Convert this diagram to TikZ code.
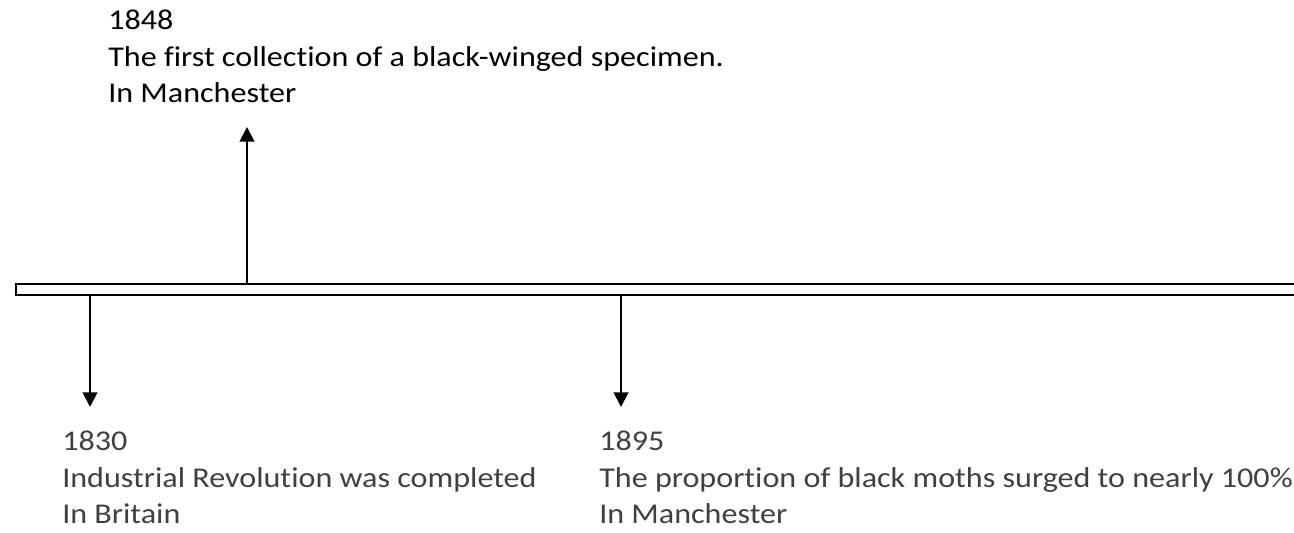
\documentclass[tikz,border=0pt]{standalone}
\usepackage{fontspec}
\setmainfont{Carlito}[FakeStretch=1.12, Ligatures=CommonOff]
\usetikzlibrary{arrows.meta,positioning}
\definecolor{grisoscuro}{rgb}{0.25, 0.25, 0.25}
\tikzset{
  hito/.style={
    anchor=north west,
    inner sep=0pt,
    align=left,
    font=\fontsize{21.5}{27.3}\selectfont
  },
  barra/.style={
    draw,
    line width=1.5pt,
    inner sep=0pt,
    minimum width=970pt,
    minimum height=8.25pt
  },
  flecha/.style={
    -{Triangle[length=11pt,width=11pt]},
    line width=1.5pt
  }
}

\begin{document}
\begin{tikzpicture}[x=0.75pt,y=-0.75pt]
\useasboundingbox (0,0) rectangle (1294,532);
\node[barra] (eje) at (663,289.5) {};
\coordinate (p1830) at (90,407);
\coordinate (p1848) at (247,127);
\coordinate (p1895) at (621,407);
\draw[flecha] (eje.south -| p1830) -- (p1830);
\draw[flecha] (eje.north -| p1848) -- (p1848);
\draw[flecha] (eje.south -| p1895) -- (p1895);
\node[hito] (t1848) at (108,10) {1848\\The first collection of a black-winged specimen.\\In Manchester};
\node[hito, text=grisoscuro] (t1830) at (62,431) {1830\\Industrial Revolution was completed\\In Britain};
\node[hito, text=grisoscuro] (t1895) at (599,431) {1895\\The proportion of black moths surged to nearly 100\%\\In Manchester};
\end{tikzpicture}
\end{document}
